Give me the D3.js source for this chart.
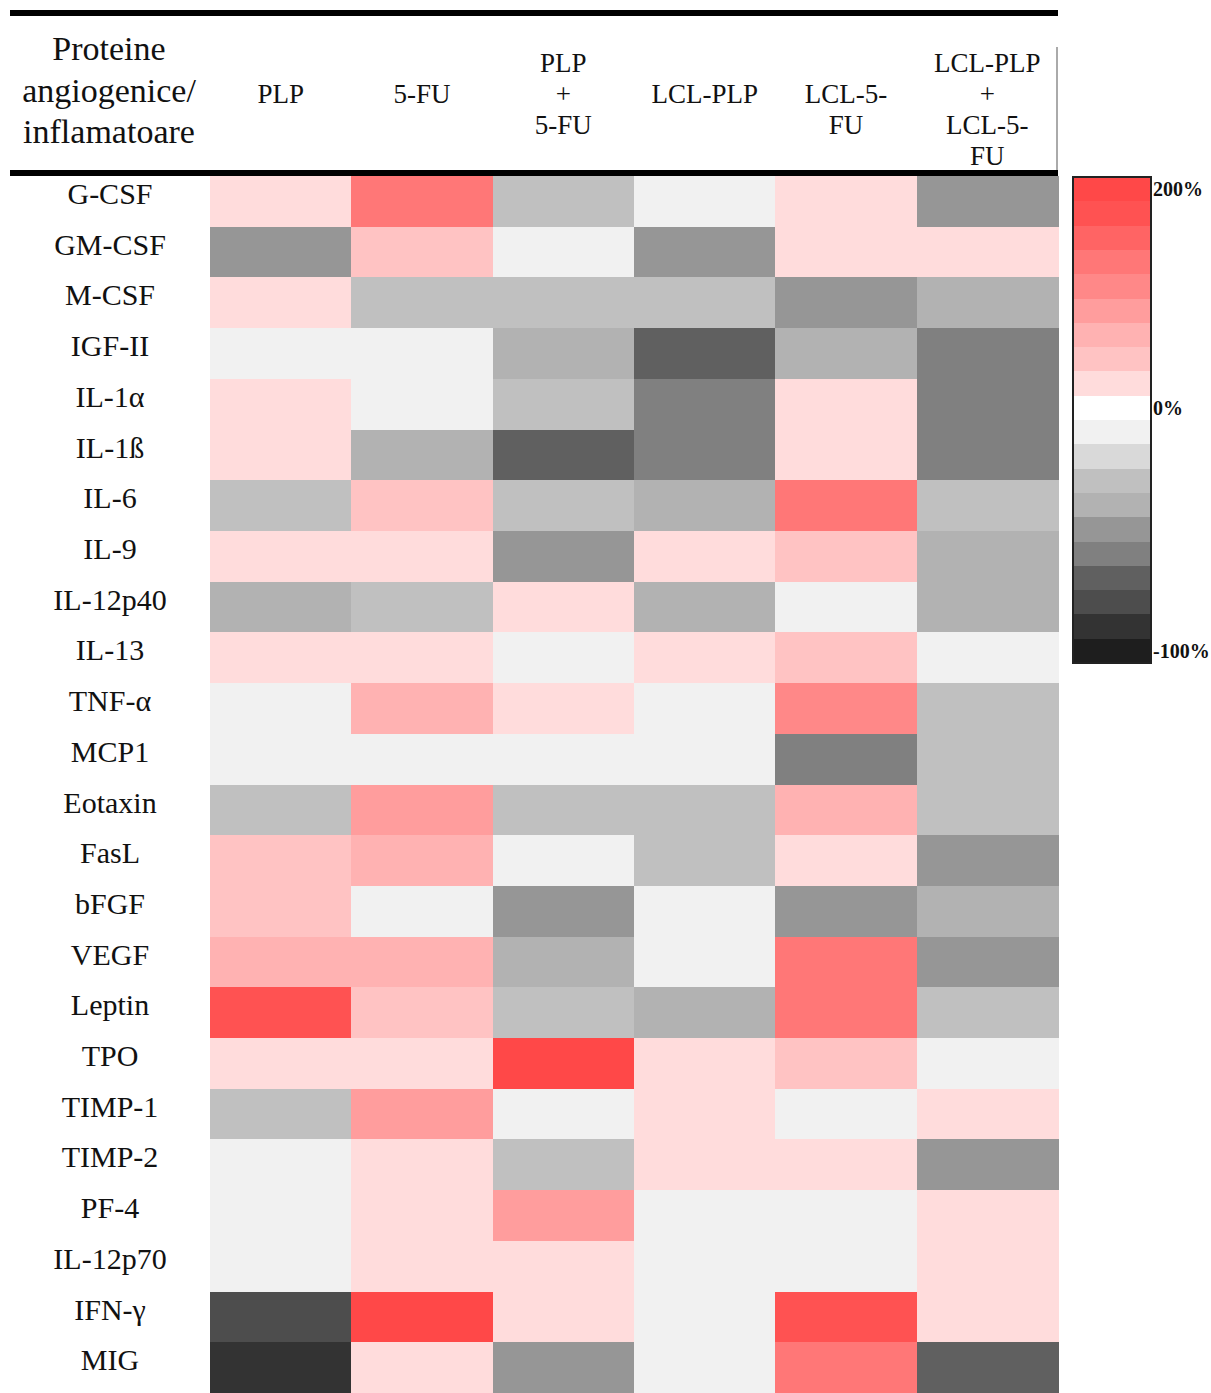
<!DOCTYPE html>
<html>
<head>
<meta charset="utf-8">
<script src="https://cdn.jsdelivr.net/npm/d3@7"></script>
<style>
  html, body { margin: 0; padding: 0; background: #ffffff; }
  svg { display: block; }
  text { font-family: "Liberation Serif", "Times New Roman", serif; fill: #111; }
</style>
</head>
<body>
<svg id="chart" width="1211" height="1393"></svg>
<script>
// ---------- data ----------
const proteins = ["G-CSF","GM-CSF","M-CSF","IGF-II","IL-1α","IL-1ß","IL-6","IL-9","IL-12p40","IL-13",
  "TNF-α","MCP1","Eotaxin","FasL","bFGF","VEGF","Leptin","TPO","TIMP-1","TIMP-2","PF-4","IL-12p70","IFN-γ","MIG"];

const treatments = ["PLP","5-FU","PLP+5-FU","LCL-PLP","LCL-5-FU","LCL-PLP+LCL-5-FU"];
const treatmentHeaderLines = [["PLP"],["5-FU"],["PLP","+","5-FU"],["LCL-PLP"],["LCL-5-","FU"],["LCL-PLP","+","LCL-5-","FU"]];
const rowHeaderLines = ["Proteine","angiogenice/","inflamatoare"];

// % change vs control
const valuesPLP       = [20,-50,20,-10,20,20,-30,25,-40,25,-10,-10,-30,45,45,65,180,25,-30,-10,-10,-10,-80,-90];
const values5FU       = [135,45,-30,-10,-10,-40,45,20,-30,25,65,-10,90,65,-10,65,45,25,90,25,20,20,200,20];
const valuesPLP5FU    = [-30,-10,-30,-40,-30,-70,-30,-50,20,-10,20,-10,-30,-10,-50,-40,-30,200,-10,-30,90,25,20,-50];
const valuesLCLPLP    = [-10,-50,-30,-70,-60,-60,-40,20,-40,20,-10,-10,-30,-30,-10,-10,-40,20,25,20,-10,-10,-10,-10];
const valuesLCL5FU    = [25,25,-50,-40,20,20,135,45,-10,45,110,-60,65,20,-50,135,135,45,-10,25,-10,-10,180,135];
const valuesLCLCombo  = [-50,20,-40,-60,-60,-60,-30,-40,-40,-10,-30,-30,-30,-50,-40,-50,-30,-10,20,-50,20,20,25,-70];

const legendTicks = [200, 0, -100];
const legendTickLabels = ["200%","0%","-100%"];

// colour steps, ascending (-100% .. 200%)
const palette = ["#1e1e1e","#333333","#4d4d4d","#606060","#808080","#969696","#b2b2b2","#c0c0c0","#d9d9d9","#f1f1f1",
  "#ffffff","#ffdcdc","#ffc3c3","#ffb2b2","#ff9d9d","#ff8888","#ff7777","#ff6464","#ff5252","#ff4848"];

// ---------- build ----------
const series = [valuesPLP, values5FU, valuesPLP5FU, valuesLCLPLP, valuesLCL5FU, valuesLCLCombo];
const cells = [];
treatments.forEach((t, ci) => proteins.forEach((p, ri) => cells.push({t, p, v: series[ci][ri]})));

// level centres: grey steps every 10% below 0, red steps every 200/9 % above 0
const centres = [];
for (let g = 10; g >= 1; g--) centres.push(-10 * g);
centres.push(0);
for (let r = 1; r <= 9; r++) centres.push(r * 200 / 9);
const thresholds = d3.range(centres.length - 1).map(i => (centres[i] + centres[i + 1]) / 2);
const color = d3.scaleThreshold().domain(thresholds).range(palette);

const svg = d3.select("#chart");

const gLeft = 210, gRight = 1058, gTop = 176, gBottom = 1393;
const x = d3.scaleBand().domain(treatments).range([gLeft, gRight]);
const y = d3.scaleBand().domain(proteins).range([gTop, gBottom]);

// cells
svg.append("g").selectAll("rect").data(cells).join("rect")
  .attr("x", d => x(d.t)).attr("y", d => y(d.p))
  .attr("width", x.bandwidth() + 0.5).attr("height", y.bandwidth() + 0.5)
  .attr("fill", d => color(d.v))
  .attr("shape-rendering", "crispEdges");

// table rules
svg.append("rect").attr("x", 10).attr("y", 10).attr("width", 1048).attr("height", 6).attr("fill", "#000");
svg.append("rect").attr("x", 10).attr("y", 170).attr("width", 1048).attr("height", 6).attr("fill", "#000");
svg.append("line").attr("x1", 1057).attr("x2", 1057).attr("y1", 47).attr("y2", 170)
  .attr("stroke", "#aaa").attr("stroke-width", 2);

// row header
svg.append("g").selectAll("text").data(rowHeaderLines).join("text")
  .attr("x", 109).attr("y", (d, i) => 60 + i * 41.5)
  .attr("text-anchor", "middle").attr("font-size", 34).text(d => d);

// column headers
const colHead = svg.append("g");
treatments.forEach((t, i) => {
  const lines = treatmentHeaderLines[i];
  const start = lines.includes("+") ? -1 : 0;
  lines.forEach((ln, j) => {
    colHead.append("text")
      .attr("x", x(t) + x.bandwidth() / 2)
      .attr("y", 103 + (start + j) * 31)
      .attr("text-anchor", "middle").attr("font-size", 27).text(ln);
  });
});

// row labels
svg.append("g").selectAll("text").data(proteins).join("text")
  .attr("x", 110).attr("y", d => y(d) + 28)
  .attr("text-anchor", "middle").attr("font-size", 30).text(d => d);

// colour bar
const cbX = 1073, cbW = 78, cbTop = 177, cbBottom = 663;
const levels = palette.slice().reverse();
const cbY = d3.scaleBand().domain(d3.range(levels.length)).range([cbTop, cbBottom]);
svg.append("g").selectAll("rect").data(levels).join("rect")
  .attr("x", cbX).attr("y", (d, i) => cbY(i)).attr("width", cbW).attr("height", cbY.bandwidth() + 0.5)
  .attr("fill", d => d).attr("shape-rendering", "crispEdges");
svg.append("rect").attr("x", cbX).attr("y", cbTop).attr("width", cbW).attr("height", cbBottom - cbTop)
  .attr("fill", "none").attr("stroke", "#222").attr("stroke-width", 2);

const h = cbY.bandwidth();
const cbScale = d3.scaleLinear().domain([200, 0, -100])
  .range([cbTop + h / 2, cbTop + 9.5 * h, cbTop + 19.5 * h]);
svg.append("g").selectAll("text").data(legendTicks).join("text")
  .attr("x", cbX + cbW + 2).attr("y", d => cbScale(d) + 7)
  .attr("font-size", 20).attr("font-weight", "bold")
  .text((d, i) => legendTickLabels[i]);
</script>
</body>
</html>
